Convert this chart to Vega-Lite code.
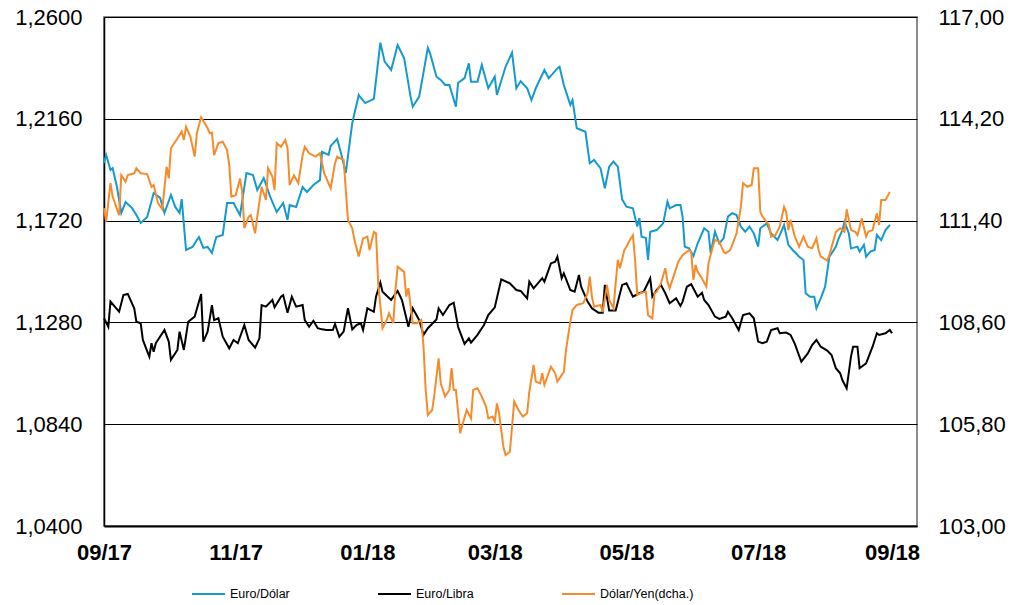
{
  "$schema": "https://vega.github.io/schema/vega-lite/v6.json",
  "width": 813,
  "height": 509,
  "autosize": {"type": "none"},
  "padding": {"left": 104, "top": 17, "right": 111, "bottom": 79},
  "background": "white",
  "config": {
    "font": "Liberation Sans",
    "view": {"stroke": "#666666", "strokeWidth": 1.5},
    "axis": {"labelFont": "Liberation Sans", "labelColor": "#000000", "labelFontSize": 22, "ticks": false, "title": null, "domainColor": "#000000"},
    "legend": {"labelFont": "Liberation Sans"}
  },
  "datasets": {
    "izq": [
      {"s":"Euro/Dólar","f":"2017-09-01","v":1.1969},{"s":"Euro/Dólar","f":"2017-09-02","v":1.2004},{"s":"Euro/Dólar","f":"2017-09-04","v":1.1939},{"s":"Euro/Dólar","f":"2017-09-05","v":1.1947},{"s":"Euro/Dólar","f":"2017-09-07","v":1.1865},{"s":"Euro/Dólar","f":"2017-09-09","v":1.1753},{"s":"Euro/Dólar","f":"2017-09-11","v":1.18},{"s":"Euro/Dólar","f":"2017-09-14","v":1.1774},{"s":"Euro/Dólar","f":"2017-09-16","v":1.1744},{"s":"Euro/Dólar","f":"2017-09-18","v":1.171},{"s":"Euro/Dólar","f":"2017-09-21","v":1.1736},{"s":"Euro/Dólar","f":"2017-09-24","v":1.1839},{"s":"Euro/Dólar","f":"2017-09-27","v":1.1818},{"s":"Euro/Dólar","f":"2017-09-29","v":1.1753},{"s":"Euro/Dólar","f":"2017-10-02","v":1.1831},{"s":"Euro/Dólar","f":"2017-10-04","v":1.1779},{"s":"Euro/Dólar","f":"2017-10-06","v":1.1753},{"s":"Euro/Dólar","f":"2017-10-07","v":1.1813},{"s":"Euro/Dólar","f":"2017-10-09","v":1.1593},{"s":"Euro/Dólar","f":"2017-10-12","v":1.1606},{"s":"Euro/Dólar","f":"2017-10-14","v":1.1636},{"s":"Euro/Dólar","f":"2017-10-15","v":1.1649},{"s":"Euro/Dólar","f":"2017-10-17","v":1.1602},{"s":"Euro/Dólar","f":"2017-10-19","v":1.1606},{"s":"Euro/Dólar","f":"2017-10-21","v":1.158},{"s":"Euro/Dólar","f":"2017-10-23","v":1.1649},{"s":"Euro/Dólar","f":"2017-10-26","v":1.1658},{"s":"Euro/Dólar","f":"2017-10-28","v":1.1796},{"s":"Euro/Dólar","f":"2017-10-31","v":1.1796},{"s":"Euro/Dólar","f":"2017-11-03","v":1.1744},{"s":"Euro/Dólar","f":"2017-11-06","v":1.1926},{"s":"Euro/Dólar","f":"2017-11-09","v":1.1917},{"s":"Euro/Dólar","f":"2017-11-11","v":1.1852},{"s":"Euro/Dólar","f":"2017-11-14","v":1.1904},{"s":"Euro/Dólar","f":"2017-11-17","v":1.1822},{"s":"Euro/Dólar","f":"2017-11-20","v":1.1757},{"s":"Euro/Dólar","f":"2017-11-23","v":1.1796},{"s":"Euro/Dólar","f":"2017-11-25","v":1.1723},{"s":"Euro/Dólar","f":"2017-11-26","v":1.1787},{"s":"Euro/Dólar","f":"2017-11-29","v":1.1779},{"s":"Euro/Dólar","f":"2017-12-02","v":1.1865},{"s":"Euro/Dólar","f":"2017-12-04","v":1.1844},{"s":"Euro/Dólar","f":"2017-12-07","v":1.1874},{"s":"Euro/Dólar","f":"2017-12-10","v":1.1895},{"s":"Euro/Dólar","f":"2017-12-11","v":1.2017},{"s":"Euro/Dólar","f":"2017-12-14","v":1.2004},{"s":"Euro/Dólar","f":"2017-12-15","v":1.2042},{"s":"Euro/Dólar","f":"2017-12-18","v":1.2073},{"s":"Euro/Dólar","f":"2017-12-20","v":1.2004},{"s":"Euro/Dólar","f":"2017-12-22","v":1.1926},{"s":"Euro/Dólar","f":"2017-12-25","v":1.2142},{"s":"Euro/Dólar","f":"2017-12-28","v":1.2263},{"s":"Euro/Dólar","f":"2017-12-29","v":1.225},{"s":"Euro/Dólar","f":"2017-12-31","v":1.2228},{"s":"Euro/Dólar","f":"2018-01-04","v":1.2246},{"s":"Euro/Dólar","f":"2018-01-07","v":1.2489},{"s":"Euro/Dólar","f":"2018-01-09","v":1.2407},{"s":"Euro/Dólar","f":"2018-01-12","v":1.2371},{"s":"Euro/Dólar","f":"2018-01-13","v":1.2407},{"s":"Euro/Dólar","f":"2018-01-15","v":1.2479},{"s":"Euro/Dólar","f":"2018-01-18","v":1.2423},{"s":"Euro/Dólar","f":"2018-01-21","v":1.2256},{"s":"Euro/Dólar","f":"2018-01-22","v":1.2212},{"s":"Euro/Dólar","f":"2018-01-25","v":1.2256},{"s":"Euro/Dólar","f":"2018-01-29","v":1.2467},{"s":"Euro/Dólar","f":"2018-01-30","v":1.2444},{"s":"Euro/Dólar","f":"2018-02-02","v":1.2342},{"s":"Euro/Dólar","f":"2018-02-04","v":1.2328},{"s":"Euro/Dólar","f":"2018-02-06","v":1.2306},{"s":"Euro/Dólar","f":"2018-02-08","v":1.2306},{"s":"Euro/Dólar","f":"2018-02-11","v":1.2212},{"s":"Euro/Dólar","f":"2018-02-12","v":1.2315},{"s":"Euro/Dólar","f":"2018-02-15","v":1.2336},{"s":"Euro/Dólar","f":"2018-02-17","v":1.24},{"s":"Euro/Dólar","f":"2018-02-18","v":1.232},{"s":"Euro/Dólar","f":"2018-02-21","v":1.232},{"s":"Euro/Dólar","f":"2018-02-23","v":1.2393},{"s":"Euro/Dólar","f":"2018-02-26","v":1.2292},{"s":"Euro/Dólar","f":"2018-03-01","v":1.2342},{"s":"Euro/Dólar","f":"2018-03-02","v":1.2263},{"s":"Euro/Dólar","f":"2018-03-06","v":1.2385},{"s":"Euro/Dólar","f":"2018-03-09","v":1.2446},{"s":"Euro/Dólar","f":"2018-03-11","v":1.2292},{"s":"Euro/Dólar","f":"2018-03-13","v":1.2323},{"s":"Euro/Dólar","f":"2018-03-16","v":1.2292},{"s":"Euro/Dólar","f":"2018-03-18","v":1.2241},{"s":"Euro/Dólar","f":"2018-03-20","v":1.2292},{"s":"Euro/Dólar","f":"2018-03-24","v":1.2371},{"s":"Euro/Dólar","f":"2018-03-26","v":1.2335},{"s":"Euro/Dólar","f":"2018-03-30","v":1.2378},{"s":"Euro/Dólar","f":"2018-03-31","v":1.2385},{"s":"Euro/Dólar","f":"2018-04-02","v":1.2306},{"s":"Euro/Dólar","f":"2018-04-05","v":1.222},{"s":"Euro/Dólar","f":"2018-04-06","v":1.2241},{"s":"Euro/Dólar","f":"2018-04-08","v":1.2119},{"s":"Euro/Dólar","f":"2018-04-12","v":1.2104},{"s":"Euro/Dólar","f":"2018-04-14","v":1.1968},{"s":"Euro/Dólar","f":"2018-04-16","v":1.1982},{"s":"Euro/Dólar","f":"2018-04-19","v":1.1946},{"s":"Euro/Dólar","f":"2018-04-21","v":1.186},{"s":"Euro/Dólar","f":"2018-04-23","v":1.1953},{"s":"Euro/Dólar","f":"2018-04-25","v":1.1975},{"s":"Euro/Dólar","f":"2018-04-27","v":1.1953},{"s":"Euro/Dólar","f":"2018-04-29","v":1.1812},{"s":"Euro/Dólar","f":"2018-05-01","v":1.178},{"s":"Euro/Dólar","f":"2018-05-04","v":1.1773},{"s":"Euro/Dólar","f":"2018-05-06","v":1.1694},{"s":"Euro/Dólar","f":"2018-05-07","v":1.1731},{"s":"Euro/Dólar","f":"2018-05-08","v":1.165},{"s":"Euro/Dólar","f":"2018-05-10","v":1.1645},{"s":"Euro/Dólar","f":"2018-05-11","v":1.155},{"s":"Euro/Dólar","f":"2018-05-12","v":1.1672},{"s":"Euro/Dólar","f":"2018-05-15","v":1.1679},{"s":"Euro/Dólar","f":"2018-05-18","v":1.1708},{"s":"Euro/Dólar","f":"2018-05-20","v":1.1802},{"s":"Euro/Dólar","f":"2018-05-21","v":1.1773},{"s":"Euro/Dólar","f":"2018-05-24","v":1.1787},{"s":"Euro/Dólar","f":"2018-05-26","v":1.1787},{"s":"Euro/Dólar","f":"2018-05-27","v":1.1737},{"s":"Euro/Dólar","f":"2018-05-28","v":1.1607},{"s":"Euro/Dólar","f":"2018-05-30","v":1.16},{"s":"Euro/Dólar","f":"2018-06-01","v":1.1567},{"s":"Euro/Dólar","f":"2018-06-03","v":1.1622},{"s":"Euro/Dólar","f":"2018-06-06","v":1.1687},{"s":"Euro/Dólar","f":"2018-06-08","v":1.1672},{"s":"Euro/Dólar","f":"2018-06-09","v":1.1579},{"s":"Euro/Dólar","f":"2018-06-11","v":1.1672},{"s":"Euro/Dólar","f":"2018-06-13","v":1.1622},{"s":"Euro/Dólar","f":"2018-06-15","v":1.1644},{"s":"Euro/Dólar","f":"2018-06-17","v":1.1737},{"s":"Euro/Dólar","f":"2018-06-19","v":1.1752},{"s":"Euro/Dólar","f":"2018-06-21","v":1.1744},{"s":"Euro/Dólar","f":"2018-06-23","v":1.1694},{"s":"Euro/Dólar","f":"2018-06-25","v":1.1672},{"s":"Euro/Dólar","f":"2018-06-27","v":1.1694},{"s":"Euro/Dólar","f":"2018-06-29","v":1.1665},{"s":"Euro/Dólar","f":"2018-07-01","v":1.1607},{"s":"Euro/Dólar","f":"2018-07-02","v":1.1687},{"s":"Euro/Dólar","f":"2018-07-05","v":1.1708},{"s":"Euro/Dólar","f":"2018-07-07","v":1.1665},{"s":"Euro/Dólar","f":"2018-07-10","v":1.1636},{"s":"Euro/Dólar","f":"2018-07-13","v":1.1701},{"s":"Euro/Dólar","f":"2018-07-15","v":1.1615},{"s":"Euro/Dólar","f":"2018-07-17","v":1.1593},{"s":"Euro/Dólar","f":"2018-07-20","v":1.1564},{"s":"Euro/Dólar","f":"2018-07-22","v":1.155},{"s":"Euro/Dólar","f":"2018-07-23","v":1.1406},{"s":"Euro/Dólar","f":"2018-07-25","v":1.1391},{"s":"Euro/Dólar","f":"2018-07-27","v":1.1391},{"s":"Euro/Dólar","f":"2018-07-28","v":1.1341},{"s":"Euro/Dólar","f":"2018-07-30","v":1.1384},{"s":"Euro/Dólar","f":"2018-08-01","v":1.1434},{"s":"Euro/Dólar","f":"2018-08-03","v":1.1564},{"s":"Euro/Dólar","f":"2018-08-06","v":1.1607},{"s":"Euro/Dólar","f":"2018-08-07","v":1.1636},{"s":"Euro/Dólar","f":"2018-08-09","v":1.1679},{"s":"Euro/Dólar","f":"2018-08-10","v":1.1715},{"s":"Euro/Dólar","f":"2018-08-12","v":1.1665},{"s":"Euro/Dólar","f":"2018-08-13","v":1.16},{"s":"Euro/Dólar","f":"2018-08-16","v":1.1607},{"s":"Euro/Dólar","f":"2018-08-17","v":1.1586},{"s":"Euro/Dólar","f":"2018-08-19","v":1.1615},{"s":"Euro/Dólar","f":"2018-08-20","v":1.1564},{"s":"Euro/Dólar","f":"2018-08-22","v":1.1586},{"s":"Euro/Dólar","f":"2018-08-24","v":1.1593},{"s":"Euro/Dólar","f":"2018-08-25","v":1.1658},{"s":"Euro/Dólar","f":"2018-08-27","v":1.1636},{"s":"Euro/Dólar","f":"2018-08-29","v":1.1679},{"s":"Euro/Dólar","f":"2018-08-31","v":1.1701},
      {"s":"Euro/Libra","f":"2017-09-01","v":1.1298},{"s":"Euro/Libra","f":"2017-09-03","v":1.1261},{"s":"Euro/Libra","f":"2017-09-04","v":1.137},{"s":"Euro/Libra","f":"2017-09-06","v":1.1348},{"s":"Euro/Libra","f":"2017-09-08","v":1.1326},{"s":"Euro/Libra","f":"2017-09-10","v":1.1398},{"s":"Euro/Libra","f":"2017-09-12","v":1.1403},{"s":"Euro/Libra","f":"2017-09-15","v":1.1341},{"s":"Euro/Libra","f":"2017-09-16","v":1.1283},{"s":"Euro/Libra","f":"2017-09-18","v":1.1276},{"s":"Euro/Libra","f":"2017-09-19","v":1.1204},{"s":"Euro/Libra","f":"2017-09-22","v":1.1132},{"s":"Euro/Libra","f":"2017-09-23","v":1.119},{"s":"Euro/Libra","f":"2017-09-24","v":1.1153},{"s":"Euro/Libra","f":"2017-09-25","v":1.119},{"s":"Euro/Libra","f":"2017-09-29","v":1.1247},{"s":"Euro/Libra","f":"2017-10-01","v":1.1197},{"s":"Euro/Libra","f":"2017-10-02","v":1.1118},{"s":"Euro/Libra","f":"2017-10-05","v":1.1161},{"s":"Euro/Libra","f":"2017-10-06","v":1.124},{"s":"Euro/Libra","f":"2017-10-08","v":1.1161},{"s":"Euro/Libra","f":"2017-10-10","v":1.1283},{"s":"Euro/Libra","f":"2017-10-13","v":1.1305},{"s":"Euro/Libra","f":"2017-10-16","v":1.1403},{"s":"Euro/Libra","f":"2017-10-17","v":1.1197},{"s":"Euro/Libra","f":"2017-10-19","v":1.124},{"s":"Euro/Libra","f":"2017-10-21","v":1.1355},{"s":"Euro/Libra","f":"2017-10-22","v":1.129},{"s":"Euro/Libra","f":"2017-10-24","v":1.1298},{"s":"Euro/Libra","f":"2017-10-26","v":1.1218},{"s":"Euro/Libra","f":"2017-10-29","v":1.1168},{"s":"Euro/Libra","f":"2017-10-31","v":1.1204},{"s":"Euro/Libra","f":"2017-11-02","v":1.119},{"s":"Euro/Libra","f":"2017-11-05","v":1.1269},{"s":"Euro/Libra","f":"2017-11-07","v":1.1204},{"s":"Euro/Libra","f":"2017-11-10","v":1.1171},{"s":"Euro/Libra","f":"2017-11-12","v":1.1211},{"s":"Euro/Libra","f":"2017-11-13","v":1.1355},{"s":"Euro/Libra","f":"2017-11-15","v":1.1348},{"s":"Euro/Libra","f":"2017-11-18","v":1.1377},{"s":"Euro/Libra","f":"2017-11-19","v":1.1345},{"s":"Euro/Libra","f":"2017-11-22","v":1.1391},{"s":"Euro/Libra","f":"2017-11-23","v":1.1398},{"s":"Euro/Libra","f":"2017-11-25","v":1.1322},{"s":"Euro/Libra","f":"2017-11-27","v":1.1391},{"s":"Euro/Libra","f":"2017-11-29","v":1.1348},{"s":"Euro/Libra","f":"2017-12-02","v":1.1355},{"s":"Euro/Libra","f":"2017-12-03","v":1.129},{"s":"Euro/Libra","f":"2017-12-05","v":1.1261},{"s":"Euro/Libra","f":"2017-12-07","v":1.1287},{"s":"Euro/Libra","f":"2017-12-09","v":1.1255},{"s":"Euro/Libra","f":"2017-12-11","v":1.125},{"s":"Euro/Libra","f":"2017-12-13","v":1.1247},{"s":"Euro/Libra","f":"2017-12-16","v":1.1247},{"s":"Euro/Libra","f":"2017-12-17","v":1.1273},{"s":"Euro/Libra","f":"2017-12-19","v":1.1218},{"s":"Euro/Libra","f":"2017-12-21","v":1.124},{"s":"Euro/Libra","f":"2017-12-23","v":1.1341},{"s":"Euro/Libra","f":"2017-12-25","v":1.125},{"s":"Euro/Libra","f":"2017-12-27","v":1.1269},{"s":"Euro/Libra","f":"2017-12-29","v":1.1276},{"s":"Euro/Libra","f":"2017-12-30","v":1.1247},{"s":"Euro/Libra","f":"2018-01-01","v":1.1341},{"s":"Euro/Libra","f":"2018-01-04","v":1.1326},{"s":"Euro/Libra","f":"2018-01-05","v":1.1391},{"s":"Euro/Libra","f":"2018-01-07","v":1.1452},{"s":"Euro/Libra","f":"2018-01-08","v":1.1413},{"s":"Euro/Libra","f":"2018-01-12","v":1.1377},{"s":"Euro/Libra","f":"2018-01-15","v":1.1416},{"s":"Euro/Libra","f":"2018-01-17","v":1.1377},{"s":"Euro/Libra","f":"2018-01-20","v":1.1261},{"s":"Euro/Libra","f":"2018-01-22","v":1.1341},{"s":"Euro/Libra","f":"2018-01-25","v":1.129},{"s":"Euro/Libra","f":"2018-01-27","v":1.1226},{"s":"Euro/Libra","f":"2018-01-29","v":1.1255},{"s":"Euro/Libra","f":"2018-02-02","v":1.1293},{"s":"Euro/Libra","f":"2018-02-03","v":1.1341},{"s":"Euro/Libra","f":"2018-02-05","v":1.1312},{"s":"Euro/Libra","f":"2018-02-08","v":1.1355},{"s":"Euro/Libra","f":"2018-02-10","v":1.1365},{"s":"Euro/Libra","f":"2018-02-12","v":1.1261},{"s":"Euro/Libra","f":"2018-02-15","v":1.1187},{"s":"Euro/Libra","f":"2018-02-17","v":1.1211},{"s":"Euro/Libra","f":"2018-02-18","v":1.1192},{"s":"Euro/Libra","f":"2018-02-21","v":1.1226},{"s":"Euro/Libra","f":"2018-02-24","v":1.1269},{"s":"Euro/Libra","f":"2018-02-26","v":1.1312},{"s":"Euro/Libra","f":"2018-03-01","v":1.1345},{"s":"Euro/Libra","f":"2018-03-04","v":1.1466},{"s":"Euro/Libra","f":"2018-03-08","v":1.1449},{"s":"Euro/Libra","f":"2018-03-11","v":1.142},{"s":"Euro/Libra","f":"2018-03-13","v":1.1416},{"s":"Euro/Libra","f":"2018-03-16","v":1.1384},{"s":"Euro/Libra","f":"2018-03-17","v":1.1456},{"s":"Euro/Libra","f":"2018-03-19","v":1.1427},{"s":"Euro/Libra","f":"2018-03-23","v":1.1471},{"s":"Euro/Libra","f":"2018-03-24","v":1.1456},{"s":"Euro/Libra","f":"2018-03-27","v":1.1535},{"s":"Euro/Libra","f":"2018-03-29","v":1.1542},{"s":"Euro/Libra","f":"2018-03-30","v":1.1564},{"s":"Euro/Libra","f":"2018-04-01","v":1.1471},{"s":"Euro/Libra","f":"2018-04-02","v":1.1492},{"s":"Euro/Libra","f":"2018-04-05","v":1.142},{"s":"Euro/Libra","f":"2018-04-07","v":1.1413},{"s":"Euro/Libra","f":"2018-04-09","v":1.1485},{"s":"Euro/Libra","f":"2018-04-10","v":1.1434},{"s":"Euro/Libra","f":"2018-04-13","v":1.137},{"s":"Euro/Libra","f":"2018-04-15","v":1.1341},{"s":"Euro/Libra","f":"2018-04-18","v":1.1322},{"s":"Euro/Libra","f":"2018-04-20","v":1.1322},{"s":"Euro/Libra","f":"2018-04-21","v":1.1442},{"s":"Euro/Libra","f":"2018-04-23","v":1.1331},{"s":"Euro/Libra","f":"2018-04-26","v":1.1331},{"s":"Euro/Libra","f":"2018-04-29","v":1.1442},{"s":"Euro/Libra","f":"2018-05-01","v":1.1449},{"s":"Euro/Libra","f":"2018-05-04","v":1.1391},{"s":"Euro/Libra","f":"2018-05-07","v":1.1406},{"s":"Euro/Libra","f":"2018-05-09","v":1.1413},{"s":"Euro/Libra","f":"2018-05-12","v":1.1471},{"s":"Euro/Libra","f":"2018-05-13","v":1.1391},{"s":"Euro/Libra","f":"2018-05-15","v":1.142},{"s":"Euro/Libra","f":"2018-05-17","v":1.1442},{"s":"Euro/Libra","f":"2018-05-19","v":1.1406},{"s":"Euro/Libra","f":"2018-05-21","v":1.1363},{"s":"Euro/Libra","f":"2018-05-24","v":1.1384},{"s":"Euro/Libra","f":"2018-05-26","v":1.1351},{"s":"Euro/Libra","f":"2018-05-27","v":1.137},{"s":"Euro/Libra","f":"2018-05-29","v":1.1434},{"s":"Euro/Libra","f":"2018-05-31","v":1.1445},{"s":"Euro/Libra","f":"2018-06-03","v":1.1391},{"s":"Euro/Libra","f":"2018-06-05","v":1.1408},{"s":"Euro/Libra","f":"2018-06-06","v":1.1377},{"s":"Euro/Libra","f":"2018-06-08","v":1.1355},{"s":"Euro/Libra","f":"2018-06-11","v":1.1305},{"s":"Euro/Libra","f":"2018-06-13","v":1.1295},{"s":"Euro/Libra","f":"2018-06-16","v":1.1305},{"s":"Euro/Libra","f":"2018-06-17","v":1.1326},{"s":"Euro/Libra","f":"2018-06-19","v":1.1298},{"s":"Euro/Libra","f":"2018-06-22","v":1.1247},{"s":"Euro/Libra","f":"2018-06-24","v":1.1312},{"s":"Euro/Libra","f":"2018-06-27","v":1.1319},{"s":"Euro/Libra","f":"2018-06-29","v":1.1298},{"s":"Euro/Libra","f":"2018-07-01","v":1.1197},{"s":"Euro/Libra","f":"2018-07-03","v":1.119},{"s":"Euro/Libra","f":"2018-07-05","v":1.1197},{"s":"Euro/Libra","f":"2018-07-07","v":1.1247},{"s":"Euro/Libra","f":"2018-07-10","v":1.1255},{"s":"Euro/Libra","f":"2018-07-11","v":1.1233},{"s":"Euro/Libra","f":"2018-07-14","v":1.1236},{"s":"Euro/Libra","f":"2018-07-16","v":1.1226},{"s":"Euro/Libra","f":"2018-07-18","v":1.1187},{"s":"Euro/Libra","f":"2018-07-21","v":1.111},{"s":"Euro/Libra","f":"2018-07-24","v":1.1146},{"s":"Euro/Libra","f":"2018-07-26","v":1.1182},{"s":"Euro/Libra","f":"2018-07-28","v":1.1204},{"s":"Euro/Libra","f":"2018-07-30","v":1.1175},{"s":"Euro/Libra","f":"2018-08-02","v":1.1158},{"s":"Euro/Libra","f":"2018-08-04","v":1.1139},{"s":"Euro/Libra","f":"2018-08-06","v":1.1082},{"s":"Euro/Libra","f":"2018-08-08","v":1.106},{"s":"Euro/Libra","f":"2018-08-09","v":1.1031},{"s":"Euro/Libra","f":"2018-08-11","v":1.0995},{"s":"Euro/Libra","f":"2018-08-13","v":1.1132},{"s":"Euro/Libra","f":"2018-08-14","v":1.1175},{"s":"Euro/Libra","f":"2018-08-16","v":1.1175},{"s":"Euro/Libra","f":"2018-08-17","v":1.1082},{"s":"Euro/Libra","f":"2018-08-20","v":1.1103},{"s":"Euro/Libra","f":"2018-08-23","v":1.1175},{"s":"Euro/Libra","f":"2018-08-25","v":1.1233},{"s":"Euro/Libra","f":"2018-08-26","v":1.1226},{"s":"Euro/Libra","f":"2018-08-29","v":1.1233},{"s":"Euro/Libra","f":"2018-08-31","v":1.1247},{"s":"Euro/Libra","f":"2018-09-01","v":1.1233}
    ],
    "dcha": [
      {"s":"Dólar/Yen(dcha.)","f":"2017-09-01","v":111.74},{"s":"Dólar/Yen(dcha.)","f":"2017-09-02","v":111.37},{"s":"Dólar/Yen(dcha.)","f":"2017-09-04","v":112.43},{"s":"Dólar/Yen(dcha.)","f":"2017-09-05","v":112.06},{"s":"Dólar/Yen(dcha.)","f":"2017-09-08","v":111.55},{"s":"Dólar/Yen(dcha.)","f":"2017-09-09","v":112.65},{"s":"Dólar/Yen(dcha.)","f":"2017-09-11","v":112.47},{"s":"Dólar/Yen(dcha.)","f":"2017-09-12","v":112.65},{"s":"Dólar/Yen(dcha.)","f":"2017-09-15","v":112.7},{"s":"Dólar/Yen(dcha.)","f":"2017-09-16","v":112.84},{"s":"Dólar/Yen(dcha.)","f":"2017-09-18","v":112.7},{"s":"Dólar/Yen(dcha.)","f":"2017-09-21","v":112.68},{"s":"Dólar/Yen(dcha.)","f":"2017-09-23","v":112.33},{"s":"Dólar/Yen(dcha.)","f":"2017-09-24","v":112.38},{"s":"Dólar/Yen(dcha.)","f":"2017-09-26","v":111.88},{"s":"Dólar/Yen(dcha.)","f":"2017-09-28","v":111.71},{"s":"Dólar/Yen(dcha.)","f":"2017-09-30","v":112.88},{"s":"Dólar/Yen(dcha.)","f":"2017-10-01","v":112.56},{"s":"Dólar/Yen(dcha.)","f":"2017-10-02","v":113.39},{"s":"Dólar/Yen(dcha.)","f":"2017-10-04","v":113.57},{"s":"Dólar/Yen(dcha.)","f":"2017-10-05","v":113.66},{"s":"Dólar/Yen(dcha.)","f":"2017-10-07","v":113.85},{"s":"Dólar/Yen(dcha.)","f":"2017-10-08","v":113.62},{"s":"Dólar/Yen(dcha.)","f":"2017-10-09","v":113.98},{"s":"Dólar/Yen(dcha.)","f":"2017-10-11","v":113.71},{"s":"Dólar/Yen(dcha.)","f":"2017-10-13","v":113.16},{"s":"Dólar/Yen(dcha.)","f":"2017-10-14","v":113.8},{"s":"Dólar/Yen(dcha.)","f":"2017-10-16","v":114.24},{"s":"Dólar/Yen(dcha.)","f":"2017-10-19","v":113.94},{"s":"Dólar/Yen(dcha.)","f":"2017-10-20","v":113.8},{"s":"Dólar/Yen(dcha.)","f":"2017-10-21","v":113.82},{"s":"Dólar/Yen(dcha.)","f":"2017-10-22","v":113.2},{"s":"Dólar/Yen(dcha.)","f":"2017-10-24","v":113.53},{"s":"Dólar/Yen(dcha.)","f":"2017-10-26","v":113.57},{"s":"Dólar/Yen(dcha.)","f":"2017-10-28","v":113.34},{"s":"Dólar/Yen(dcha.)","f":"2017-10-29","v":112.93},{"s":"Dólar/Yen(dcha.)","f":"2017-10-30","v":112.06},{"s":"Dólar/Yen(dcha.)","f":"2017-11-01","v":112.1},{"s":"Dólar/Yen(dcha.)","f":"2017-11-03","v":112.56},{"s":"Dólar/Yen(dcha.)","f":"2017-11-04","v":112.19},{"s":"Dólar/Yen(dcha.)","f":"2017-11-05","v":111.19},{"s":"Dólar/Yen(dcha.)","f":"2017-11-07","v":111.51},{"s":"Dólar/Yen(dcha.)","f":"2017-11-08","v":111.55},{"s":"Dólar/Yen(dcha.)","f":"2017-11-10","v":111.05},{"s":"Dólar/Yen(dcha.)","f":"2017-11-11","v":111.51},{"s":"Dólar/Yen(dcha.)","f":"2017-11-13","v":112.33},{"s":"Dólar/Yen(dcha.)","f":"2017-11-15","v":111.97},{"s":"Dólar/Yen(dcha.)","f":"2017-11-16","v":112.84},{"s":"Dólar/Yen(dcha.)","f":"2017-11-18","v":112.61},{"s":"Dólar/Yen(dcha.)","f":"2017-11-19","v":112.24},{"s":"Dólar/Yen(dcha.)","f":"2017-11-20","v":113.53},{"s":"Dólar/Yen(dcha.)","f":"2017-11-22","v":113.43},{"s":"Dólar/Yen(dcha.)","f":"2017-11-24","v":113.62},{"s":"Dólar/Yen(dcha.)","f":"2017-11-25","v":113.39},{"s":"Dólar/Yen(dcha.)","f":"2017-11-26","v":112.38},{"s":"Dólar/Yen(dcha.)","f":"2017-11-28","v":112.65},{"s":"Dólar/Yen(dcha.)","f":"2017-11-30","v":112.43},{"s":"Dólar/Yen(dcha.)","f":"2017-12-02","v":113.2},{"s":"Dólar/Yen(dcha.)","f":"2017-12-03","v":113.43},{"s":"Dólar/Yen(dcha.)","f":"2017-12-05","v":113.25},{"s":"Dólar/Yen(dcha.)","f":"2017-12-08","v":113.16},{"s":"Dólar/Yen(dcha.)","f":"2017-12-10","v":113.25},{"s":"Dólar/Yen(dcha.)","f":"2017-12-12","v":112.7},{"s":"Dólar/Yen(dcha.)","f":"2017-12-13","v":112.56},{"s":"Dólar/Yen(dcha.)","f":"2017-12-15","v":112.29},{"s":"Dólar/Yen(dcha.)","f":"2017-12-17","v":112.98},{"s":"Dólar/Yen(dcha.)","f":"2017-12-18","v":113.16},{"s":"Dólar/Yen(dcha.)","f":"2017-12-21","v":113.07},{"s":"Dólar/Yen(dcha.)","f":"2017-12-23","v":111.42},{"s":"Dólar/Yen(dcha.)","f":"2017-12-25","v":111.19},{"s":"Dólar/Yen(dcha.)","f":"2017-12-26","v":110.87},{"s":"Dólar/Yen(dcha.)","f":"2017-12-28","v":110.41},{"s":"Dólar/Yen(dcha.)","f":"2017-12-30","v":110.91},{"s":"Dólar/Yen(dcha.)","f":"2018-01-01","v":110.96},{"s":"Dólar/Yen(dcha.)","f":"2018-01-02","v":110.59},{"s":"Dólar/Yen(dcha.)","f":"2018-01-04","v":111.09},{"s":"Dólar/Yen(dcha.)","f":"2018-01-05","v":111.05},{"s":"Dólar/Yen(dcha.)","f":"2018-01-06","v":109.68},{"s":"Dólar/Yen(dcha.)","f":"2018-01-08","v":108.44},{"s":"Dólar/Yen(dcha.)","f":"2018-01-10","v":108.67},{"s":"Dólar/Yen(dcha.)","f":"2018-01-11","v":108.85},{"s":"Dólar/Yen(dcha.)","f":"2018-01-13","v":108.58},{"s":"Dólar/Yen(dcha.)","f":"2018-01-14","v":109.49},{"s":"Dólar/Yen(dcha.)","f":"2018-01-15","v":110.13},{"s":"Dólar/Yen(dcha.)","f":"2018-01-18","v":109.99},{"s":"Dólar/Yen(dcha.)","f":"2018-01-19","v":109.31},{"s":"Dólar/Yen(dcha.)","f":"2018-01-20","v":109.54},{"s":"Dólar/Yen(dcha.)","f":"2018-01-22","v":108.58},{"s":"Dólar/Yen(dcha.)","f":"2018-01-24","v":108.58},{"s":"Dólar/Yen(dcha.)","f":"2018-01-26","v":108.67},{"s":"Dólar/Yen(dcha.)","f":"2018-01-27","v":107.93},{"s":"Dólar/Yen(dcha.)","f":"2018-01-28","v":106.74},{"s":"Dólar/Yen(dcha.)","f":"2018-01-29","v":106.05},{"s":"Dólar/Yen(dcha.)","f":"2018-01-31","v":106.19},{"s":"Dólar/Yen(dcha.)","f":"2018-02-01","v":106.6},{"s":"Dólar/Yen(dcha.)","f":"2018-02-03","v":107.61},{"s":"Dólar/Yen(dcha.)","f":"2018-02-04","v":106.92},{"s":"Dólar/Yen(dcha.)","f":"2018-02-06","v":106.56},{"s":"Dólar/Yen(dcha.)","f":"2018-02-08","v":106.74},{"s":"Dólar/Yen(dcha.)","f":"2018-02-09","v":107.34},{"s":"Dólar/Yen(dcha.)","f":"2018-02-10","v":106.74},{"s":"Dólar/Yen(dcha.)","f":"2018-02-11","v":106.74},{"s":"Dólar/Yen(dcha.)","f":"2018-02-13","v":105.55},{"s":"Dólar/Yen(dcha.)","f":"2018-02-14","v":105.78},{"s":"Dólar/Yen(dcha.)","f":"2018-02-16","v":106.19},{"s":"Dólar/Yen(dcha.)","f":"2018-02-18","v":105.96},{"s":"Dólar/Yen(dcha.)","f":"2018-02-19","v":106.74},{"s":"Dólar/Yen(dcha.)","f":"2018-02-21","v":106.79},{"s":"Dólar/Yen(dcha.)","f":"2018-02-23","v":106.56},{"s":"Dólar/Yen(dcha.)","f":"2018-02-25","v":106.28},{"s":"Dólar/Yen(dcha.)","f":"2018-02-26","v":105.96},{"s":"Dólar/Yen(dcha.)","f":"2018-02-28","v":106.01},{"s":"Dólar/Yen(dcha.)","f":"2018-03-01","v":105.87},{"s":"Dólar/Yen(dcha.)","f":"2018-03-02","v":106.37},{"s":"Dólar/Yen(dcha.)","f":"2018-03-03","v":106.1},{"s":"Dólar/Yen(dcha.)","f":"2018-03-05","v":105.18},{"s":"Dólar/Yen(dcha.)","f":"2018-03-06","v":104.95},{"s":"Dólar/Yen(dcha.)","f":"2018-03-08","v":105.04},{"s":"Dólar/Yen(dcha.)","f":"2018-03-09","v":105.73},{"s":"Dólar/Yen(dcha.)","f":"2018-03-10","v":106.42},{"s":"Dólar/Yen(dcha.)","f":"2018-03-12","v":106.19},{"s":"Dólar/Yen(dcha.)","f":"2018-03-14","v":106.01},{"s":"Dólar/Yen(dcha.)","f":"2018-03-16","v":106.1},{"s":"Dólar/Yen(dcha.)","f":"2018-03-17","v":106.69},{"s":"Dólar/Yen(dcha.)","f":"2018-03-19","v":107.43},{"s":"Dólar/Yen(dcha.)","f":"2018-03-20","v":106.97},{"s":"Dólar/Yen(dcha.)","f":"2018-03-22","v":106.92},{"s":"Dólar/Yen(dcha.)","f":"2018-03-23","v":107.2},{"s":"Dólar/Yen(dcha.)","f":"2018-03-24","v":106.88},{"s":"Dólar/Yen(dcha.)","f":"2018-03-27","v":107.38},{"s":"Dólar/Yen(dcha.)","f":"2018-03-29","v":107.2},{"s":"Dólar/Yen(dcha.)","f":"2018-03-30","v":106.97},{"s":"Dólar/Yen(dcha.)","f":"2018-04-02","v":107.24},{"s":"Dólar/Yen(dcha.)","f":"2018-04-03","v":107.84},{"s":"Dólar/Yen(dcha.)","f":"2018-04-05","v":108.62},{"s":"Dólar/Yen(dcha.)","f":"2018-04-06","v":108.94},{"s":"Dólar/Yen(dcha.)","f":"2018-04-08","v":109.08},{"s":"Dólar/Yen(dcha.)","f":"2018-04-11","v":109.13},{"s":"Dólar/Yen(dcha.)","f":"2018-04-13","v":109.4},{"s":"Dólar/Yen(dcha.)","f":"2018-04-14","v":109.86},{"s":"Dólar/Yen(dcha.)","f":"2018-04-15","v":109.31},{"s":"Dólar/Yen(dcha.)","f":"2018-04-16","v":109.03},{"s":"Dólar/Yen(dcha.)","f":"2018-04-19","v":109.08},{"s":"Dólar/Yen(dcha.)","f":"2018-04-20","v":108.89},{"s":"Dólar/Yen(dcha.)","f":"2018-04-22","v":109.63},{"s":"Dólar/Yen(dcha.)","f":"2018-04-23","v":109.22},{"s":"Dólar/Yen(dcha.)","f":"2018-04-25","v":108.99},{"s":"Dólar/Yen(dcha.)","f":"2018-04-26","v":109.68},{"s":"Dólar/Yen(dcha.)","f":"2018-04-27","v":110.32},{"s":"Dólar/Yen(dcha.)","f":"2018-04-28","v":110.09},{"s":"Dólar/Yen(dcha.)","f":"2018-04-30","v":110.59},{"s":"Dólar/Yen(dcha.)","f":"2018-05-01","v":110.68},{"s":"Dólar/Yen(dcha.)","f":"2018-05-03","v":110.91},{"s":"Dólar/Yen(dcha.)","f":"2018-05-04","v":111.0},{"s":"Dólar/Yen(dcha.)","f":"2018-05-05","v":110.32},{"s":"Dólar/Yen(dcha.)","f":"2018-05-06","v":109.35},{"s":"Dólar/Yen(dcha.)","f":"2018-05-08","v":109.42},{"s":"Dólar/Yen(dcha.)","f":"2018-05-10","v":109.44},{"s":"Dólar/Yen(dcha.)","f":"2018-05-11","v":108.8},{"s":"Dólar/Yen(dcha.)","f":"2018-05-13","v":108.71},{"s":"Dólar/Yen(dcha.)","f":"2018-05-14","v":109.4},{"s":"Dólar/Yen(dcha.)","f":"2018-05-15","v":109.44},{"s":"Dólar/Yen(dcha.)","f":"2018-05-17","v":109.68},{"s":"Dólar/Yen(dcha.)","f":"2018-05-19","v":110.09},{"s":"Dólar/Yen(dcha.)","f":"2018-05-20","v":109.72},{"s":"Dólar/Yen(dcha.)","f":"2018-05-21","v":109.54},{"s":"Dólar/Yen(dcha.)","f":"2018-05-23","v":109.9},{"s":"Dólar/Yen(dcha.)","f":"2018-05-25","v":110.27},{"s":"Dólar/Yen(dcha.)","f":"2018-05-27","v":110.45},{"s":"Dólar/Yen(dcha.)","f":"2018-05-30","v":110.59},{"s":"Dólar/Yen(dcha.)","f":"2018-05-31","v":110.54},{"s":"Dólar/Yen(dcha.)","f":"2018-06-01","v":109.77},{"s":"Dólar/Yen(dcha.)","f":"2018-06-02","v":110.18},{"s":"Dólar/Yen(dcha.)","f":"2018-06-03","v":109.99},{"s":"Dólar/Yen(dcha.)","f":"2018-06-05","v":109.81},{"s":"Dólar/Yen(dcha.)","f":"2018-06-07","v":109.58},{"s":"Dólar/Yen(dcha.)","f":"2018-06-08","v":110.23},{"s":"Dólar/Yen(dcha.)","f":"2018-06-10","v":110.68},{"s":"Dólar/Yen(dcha.)","f":"2018-06-11","v":110.87},{"s":"Dólar/Yen(dcha.)","f":"2018-06-13","v":110.82},{"s":"Dólar/Yen(dcha.)","f":"2018-06-15","v":110.54},{"s":"Dólar/Yen(dcha.)","f":"2018-06-16","v":110.5},{"s":"Dólar/Yen(dcha.)","f":"2018-06-18","v":110.59},{"s":"Dólar/Yen(dcha.)","f":"2018-06-19","v":110.73},{"s":"Dólar/Yen(dcha.)","f":"2018-06-21","v":111.05},{"s":"Dólar/Yen(dcha.)","f":"2018-06-23","v":111.78},{"s":"Dólar/Yen(dcha.)","f":"2018-06-24","v":112.43},{"s":"Dólar/Yen(dcha.)","f":"2018-06-26","v":112.33},{"s":"Dólar/Yen(dcha.)","f":"2018-06-28","v":112.38},{"s":"Dólar/Yen(dcha.)","f":"2018-06-29","v":112.84},{"s":"Dólar/Yen(dcha.)","f":"2018-07-01","v":112.84},{"s":"Dólar/Yen(dcha.)","f":"2018-07-02","v":111.64},{"s":"Dólar/Yen(dcha.)","f":"2018-07-03","v":111.51},{"s":"Dólar/Yen(dcha.)","f":"2018-07-06","v":111.28},{"s":"Dólar/Yen(dcha.)","f":"2018-07-07","v":110.96},{"s":"Dólar/Yen(dcha.)","f":"2018-07-09","v":111.0},{"s":"Dólar/Yen(dcha.)","f":"2018-07-11","v":111.23},{"s":"Dólar/Yen(dcha.)","f":"2018-07-13","v":111.78},{"s":"Dólar/Yen(dcha.)","f":"2018-07-14","v":111.64},{"s":"Dólar/Yen(dcha.)","f":"2018-07-15","v":111.14},{"s":"Dólar/Yen(dcha.)","f":"2018-07-16","v":111.42},{"s":"Dólar/Yen(dcha.)","f":"2018-07-18","v":110.96},{"s":"Dólar/Yen(dcha.)","f":"2018-07-20","v":110.68},{"s":"Dólar/Yen(dcha.)","f":"2018-07-22","v":110.96},{"s":"Dólar/Yen(dcha.)","f":"2018-07-24","v":110.68},{"s":"Dólar/Yen(dcha.)","f":"2018-07-26","v":110.64},{"s":"Dólar/Yen(dcha.)","f":"2018-07-28","v":110.91},{"s":"Dólar/Yen(dcha.)","f":"2018-07-29","v":110.59},{"s":"Dólar/Yen(dcha.)","f":"2018-07-30","v":110.41},{"s":"Dólar/Yen(dcha.)","f":"2018-08-02","v":110.3},{"s":"Dólar/Yen(dcha.)","f":"2018-08-03","v":110.45},{"s":"Dólar/Yen(dcha.)","f":"2018-08-06","v":111.09},{"s":"Dólar/Yen(dcha.)","f":"2018-08-08","v":111.19},{"s":"Dólar/Yen(dcha.)","f":"2018-08-10","v":111.09},{"s":"Dólar/Yen(dcha.)","f":"2018-08-11","v":111.71},{"s":"Dólar/Yen(dcha.)","f":"2018-08-13","v":111.14},{"s":"Dólar/Yen(dcha.)","f":"2018-08-15","v":111.09},{"s":"Dólar/Yen(dcha.)","f":"2018-08-16","v":111.0},{"s":"Dólar/Yen(dcha.)","f":"2018-08-18","v":111.46},{"s":"Dólar/Yen(dcha.)","f":"2018-08-20","v":110.96},{"s":"Dólar/Yen(dcha.)","f":"2018-08-21","v":111.09},{"s":"Dólar/Yen(dcha.)","f":"2018-08-23","v":111.14},{"s":"Dólar/Yen(dcha.)","f":"2018-08-25","v":111.6},{"s":"Dólar/Yen(dcha.)","f":"2018-08-26","v":111.28},{"s":"Dólar/Yen(dcha.)","f":"2018-08-27","v":111.97},{"s":"Dólar/Yen(dcha.)","f":"2018-08-29","v":111.97},{"s":"Dólar/Yen(dcha.)","f":"2018-08-31","v":112.19}
    ]
  },
  "layer": [
    {
      "data": {"name": "izq"},
      "mark": {"type": "line", "strokeWidth": 2},
      "encoding": {
        "x": {
          "field": "f", "type": "temporal",
          "scale": {"type": "utc", "domain": [{"year": 2017, "month": 9, "date": 1, "utc": true}, {"year": 2018, "month": 9, "date": 12, "hours": 14, "utc": true}]},
          "axis": {
            "values": [
              {"year": 2017, "month": 9, "date": 1, "utc": true},
              {"year": 2017, "month": 11, "date": 1, "utc": true},
              {"year": 2018, "month": 1, "date": 1, "utc": true},
              {"year": 2018, "month": 3, "date": 1, "utc": true},
              {"year": 2018, "month": 5, "date": 1, "utc": true},
              {"year": 2018, "month": 7, "date": 1, "utc": true},
              {"year": 2018, "month": 9, "date": 1, "utc": true}
            ],
            "format": "%m/%y", "labelFontWeight": "bold", "grid": false, "domainColor": "#000000", "domainWidth": 2,
            "labelPadding": 16, "labelFlush": false, "labelOverlap": false, "title": null
          }
        },
        "y": {
          "field": "v", "type": "quantitative",
          "scale": {"domain": [1.04, 1.26], "nice": false, "zero": false},
          "axis": {
            "orient": "left", "values": [1.04, 1.084, 1.128, 1.172, 1.216, 1.26],
            "labelExpr": "replace(format(datum.value, '.4f'), '.', ',')",
            "grid": true, "gridColor": "#000000", "gridWidth": 1, "domainColor": "#000000", "domainWidth": 1.5,
            "labelPadding": 22, "title": null
          }
        },
        "color": {
          "field": "s", "type": "nominal",
          "scale": {"domain": ["Euro/Dólar", "Euro/Libra", "Dólar/Yen(dcha.)"], "range": ["#1599CE", "#000000", "#F68B2C"]},
          "legend": {
            "orient": "none", "legendX": 87, "legendY": 559.5, "direction": "horizontal", "title": null,
            "symbolType": "stroke", "symbolSize": 1089, "symbolStrokeWidth": 2,
            "labelFontSize": 12.5, "labelColor": "#000000", "labelOffset": 4, "columnPadding": 84
          }
        }
      }
    },
    {
      "data": {"name": "dcha"},
      "mark": {"type": "line", "strokeWidth": 2},
      "encoding": {
        "x": {
          "field": "f", "type": "temporal",
          "scale": {"type": "utc", "domain": [{"year": 2017, "month": 9, "date": 1, "utc": true}, {"year": 2018, "month": 9, "date": 12, "hours": 14, "utc": true}]},
          "axis": {
            "values": [
              {"year": 2017, "month": 9, "date": 1, "utc": true},
              {"year": 2017, "month": 11, "date": 1, "utc": true},
              {"year": 2018, "month": 1, "date": 1, "utc": true},
              {"year": 2018, "month": 3, "date": 1, "utc": true},
              {"year": 2018, "month": 5, "date": 1, "utc": true},
              {"year": 2018, "month": 7, "date": 1, "utc": true},
              {"year": 2018, "month": 9, "date": 1, "utc": true}
            ],
            "format": "%m/%y", "labelFontWeight": "bold", "grid": false, "domainColor": "#000000", "domainWidth": 2,
            "labelPadding": 16, "labelFlush": false, "labelOverlap": false, "title": null
          }
        },
        "y": {
          "field": "v", "type": "quantitative",
          "scale": {"domain": [103, 117], "nice": false, "zero": false},
          "axis": {
            "orient": "right", "values": [103, 105.8, 108.6, 111.4, 114.2, 117],
            "labelExpr": "replace(format(datum.value, '.2f'), '.', ',')",
            "grid": false, "domain": false, "labelPadding": 21, "title": null
          }
        },
        "color": {
          "field": "s", "type": "nominal",
          "scale": {"domain": ["Euro/Dólar", "Euro/Libra", "Dólar/Yen(dcha.)"], "range": ["#1599CE", "#000000", "#F68B2C"]}
        }
      }
    }
  ],
  "resolve": {"scale": {"y": "independent"}}
}
